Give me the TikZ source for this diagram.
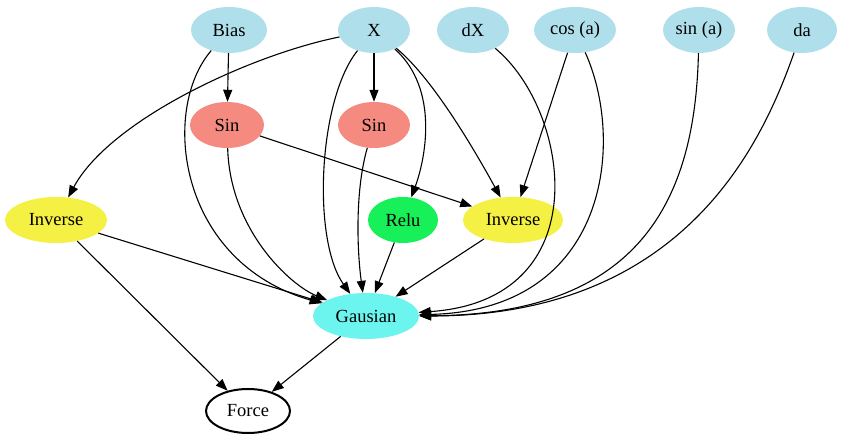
\documentclass[tikz,border=0pt]{standalone}
\usepackage{fontspec}
\setmainfont{Liberation Serif}
\usetikzlibrary{arrows.meta}
\definecolor{lblue}{HTML}{B0DFEC}
\definecolor{salm}{HTML}{F58A80}
\definecolor{grn}{HTML}{18F05A}
\definecolor{yel}{HTML}{F5F044}
\definecolor{cyn}{HTML}{6CF5EF}
\tikzset{
  nd/.style={ellipse, minimum height=46pt, inner sep=0pt, font=\fontsize{18.5}{21}\selectfont},
  bl/.style={nd, fill=lblue},
  sl/.style={nd, fill=salm},
  gr/.style={nd, fill=grn},
  yl/.style={nd, fill=yel},
  cy/.style={nd, fill=cyn},
  edge/.style={line width=1.1pt, -{Triangle[length=12pt,width=9pt]}},
}
\usetikzlibrary{shapes.geometric}
\begin{document}
\begin{tikzpicture}[x=1pt,y=1pt]
\useasboundingbox (0,0) rectangle (844,-443);
\node[bl, minimum width=76pt] (bias) at (229,-30) {Bias};
\node[bl, minimum width=72pt] (x) at (374,-30) {X};
\node[bl, minimum width=72pt] (dx) at (473,-30) {dX};
\node[bl, minimum width=82pt] (cos) at (575,-30) {cos (a)};
\node[bl, minimum width=72pt] (sina) at (699,-30) {sin (a)};
\node[bl, minimum width=70pt] (da) at (802,-30) {da};
\node[sl, minimum width=74pt] (sin1) at (227,-125) {Sin};
\node[sl, minimum width=72pt] (sin2) at (374,-125) {Sin};
\node[yl, minimum width=102pt] (inv1) at (56,-220) {Inverse};
\node[gr, minimum width=70pt] (relu) at (403,-220) {Relu};
\node[yl, minimum width=100pt] (inv2) at (513,-220) {Inverse};
\node[cy, minimum width=106pt] (gaus) at (366,-316) {Gausian};
\node[nd, draw, line width=2pt, minimum width=84pt, minimum height=44pt] (force) at (248,-411) {Force};

\draw[edge] (bias) -- (sin1);
\draw[edge] (bias) .. controls (160,-110) and (178,-262) .. (gaus);
\draw[edge] (x) .. controls (250,-55) and (110,-120) .. (inv1);
\draw[edge] (x) -- (sin2);
\draw[edge] (x) .. controls (318,-100) and (312,-240) .. (gaus);
\draw[edge] (x) .. controls (440,-90) and (425,-160) .. (relu);
\draw[edge] (x) .. controls (435,-80) and (480,-160) .. (inv2);
\draw[edge] (dx) .. controls (570,-110) and (600,-300) .. (gaus);
\draw[edge] (cos) -- (inv2);
\draw[edge] (cos) .. controls (625,-140) and (610,-310) .. (gaus);
\draw[edge] (sina) .. controls (695,-200) and (640,-315) .. (gaus);
\draw[edge] (da) .. controls (760,-150) and (680,-316) .. (gaus);
\draw[edge] (sin1) -- (inv2);
\draw[edge] (sin1) .. controls (230,-230) and (290,-285) .. (gaus);
\draw[edge] (sin2) .. controls (355,-190) and (357,-250) .. (gaus);
\draw[edge] (inv1) -- (gaus);
\draw[edge] (relu) -- (gaus);
\draw[edge] (inv2) -- (gaus);
\draw[edge] (inv1) -- (force);
\draw[edge] (gaus) -- (force);
\end{tikzpicture}
\end{document}
